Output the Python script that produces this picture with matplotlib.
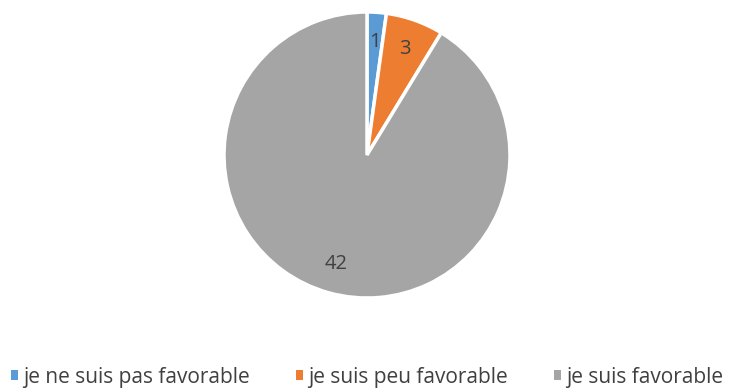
import matplotlib.pyplot as plt
from matplotlib.patches import Patch

# -----------------------------
# Data
# -----------------------------
categories = ["je ne suis pas favorable", "je suis peu favorable", "je suis favorable"]
values = [1, 3, 42]
colors = ["#5B9BD5", "#ED7D31", "#A5A5A5"]

W, H = 734, 390
plt.rcParams["font.family"] = ["Open Sans", "DejaVu Sans"]

fig = plt.figure(figsize=(W / 100, H / 100), dpi=100)

# pie axes: centre (367, 155), radius 143 px
cx, cy, r = 367, 155, 143
ax = fig.add_axes([(cx - r) / W, (H - cy - r) / H, 2 * r / W, 2 * r / H])

wedges, texts = ax.pie(
    values,
    colors=colors,
    startangle=90,
    counterclock=False,
    labels=[str(v) for v in values],
    labeldistance=0.79,
    wedgeprops=dict(edgecolor="white", linewidth=2.5),
    textprops=dict(fontsize=14.5, color="#404040", ha="center", va="center"),
)
ax.set_xlim(-1, 1)
ax.set_ylim(-1, 1)
ax.set_aspect("equal")

handles = [Patch(facecolor=c, edgecolor="none") for c in colors]
fig.legend(
    handles,
    categories,
    loc="center",
    bbox_to_anchor=(0.5, 1 - 377 / H),
    ncol=3,
    frameon=False,
    fontsize=15,
    handlelength=0.35,
    handleheight=0.35,
    handletextpad=0.25,
    columnspacing=2.2,
    labelcolor="#404040",
    borderpad=0,
)

plt.savefig("out.png", dpi=100)
plt.close()
